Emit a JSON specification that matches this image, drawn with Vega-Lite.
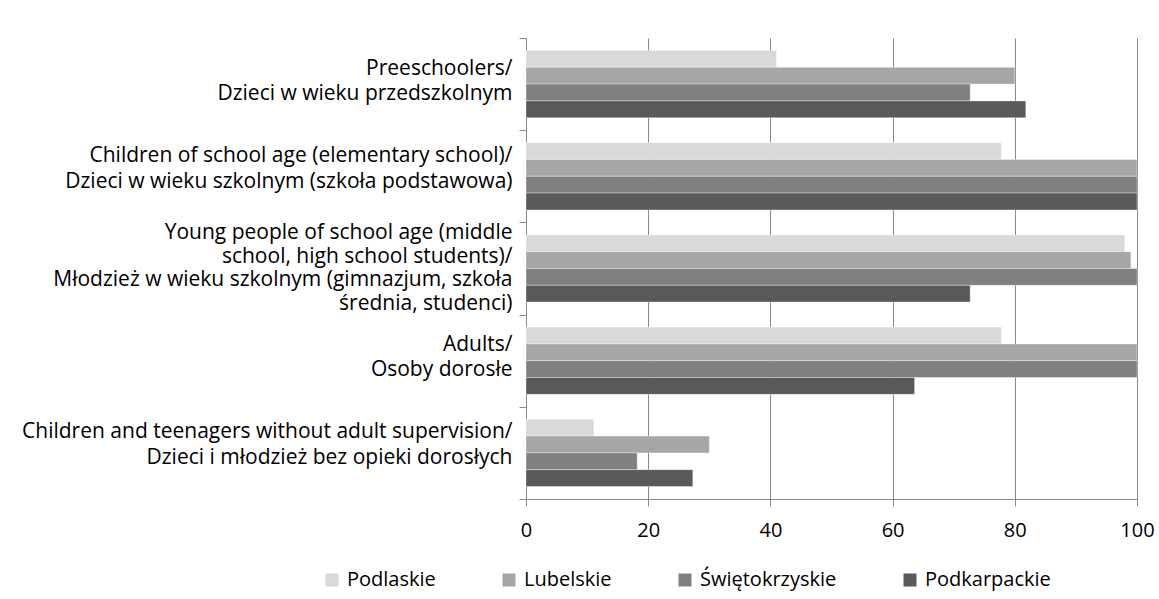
{
  "$schema": "https://vega.github.io/schema/vega-lite/v6.json",
  "width": 611,
  "height": 461,
  "autosize": {"type": "none"},
  "padding": {"left": 526, "top": 38, "right": 22, "bottom": 100},
  "background": "white",
  "config": {"view": {"stroke": null}, "font": "Open Sans"},
  "datasets": {
    "rows": [
      {"group": "Preeschoolers/|Dzieci w wieku przedszkolnym\u00a0", "region": "Podlaskie", "value": 41},
      {"group": "Preeschoolers/|Dzieci w wieku przedszkolnym\u00a0", "region": "Lubelskie", "value": 80},
      {"group": "Preeschoolers/|Dzieci w wieku przedszkolnym\u00a0", "region": "Świętokrzyskie", "value": 72.7},
      {"group": "Preeschoolers/|Dzieci w wieku przedszkolnym\u00a0", "region": "Podkarpackie", "value": 81.8},
      {"group": "Children of school age (elementary school)/|Dzieci w wieku szkolnym (szkoła podstawowa)\u00a0", "region": "Podlaskie", "value": 77.8},
      {"group": "Children of school age (elementary school)/|Dzieci w wieku szkolnym (szkoła podstawowa)\u00a0", "region": "Lubelskie", "value": 100},
      {"group": "Children of school age (elementary school)/|Dzieci w wieku szkolnym (szkoła podstawowa)\u00a0", "region": "Świętokrzyskie", "value": 100},
      {"group": "Children of school age (elementary school)/|Dzieci w wieku szkolnym (szkoła podstawowa)\u00a0", "region": "Podkarpackie", "value": 100},
      {"group": "Young people of school age (middle\u00a0\u00a0|school, high school students)/\u00a0|Młodzież w wieku szkolnym (gimnazjum, szkoła\u00a0\u00a0|średnia, studenci)\u00a0\u00a0", "region": "Podlaskie", "value": 98},
      {"group": "Young people of school age (middle\u00a0\u00a0|school, high school students)/\u00a0|Młodzież w wieku szkolnym (gimnazjum, szkoła\u00a0\u00a0|średnia, studenci)\u00a0\u00a0", "region": "Lubelskie", "value": 99},
      {"group": "Young people of school age (middle\u00a0\u00a0|school, high school students)/\u00a0|Młodzież w wieku szkolnym (gimnazjum, szkoła\u00a0\u00a0|średnia, studenci)\u00a0\u00a0", "region": "Świętokrzyskie", "value": 100},
      {"group": "Young people of school age (middle\u00a0\u00a0|school, high school students)/\u00a0|Młodzież w wieku szkolnym (gimnazjum, szkoła\u00a0\u00a0|średnia, studenci)\u00a0\u00a0", "region": "Podkarpackie", "value": 72.7},
      {"group": "Adults/|Osoby dorosłe", "region": "Podlaskie", "value": 77.8},
      {"group": "Adults/|Osoby dorosłe", "region": "Lubelskie", "value": 100},
      {"group": "Adults/|Osoby dorosłe", "region": "Świętokrzyskie", "value": 100},
      {"group": "Adults/|Osoby dorosłe", "region": "Podkarpackie", "value": 63.6},
      {"group": "Children and teenagers without adult supervision/\u00a0\u00a0|Dzieci i młodzież bez opieki dorosłych\u00a0", "region": "Podlaskie", "value": 11.1},
      {"group": "Children and teenagers without adult supervision/\u00a0\u00a0|Dzieci i młodzież bez opieki dorosłych\u00a0", "region": "Lubelskie", "value": 30},
      {"group": "Children and teenagers without adult supervision/\u00a0\u00a0|Dzieci i młodzież bez opieki dorosłych\u00a0", "region": "Świętokrzyskie", "value": 18.2},
      {"group": "Children and teenagers without adult supervision/\u00a0\u00a0|Dzieci i młodzież bez opieki dorosłych\u00a0", "region": "Podkarpackie", "value": 27.3}
    ]
  },
  "data": {"name": "rows"},
  "resolve": {"axis": {"y": "independent"}},
  "layer": [
    {
      "mark": {"type": "bar", "stroke": "#ffffff", "strokeWidth": 0.6, "strokeOpacity": 0.6},
      "encoding": {
        "y": {
          "field": "group",
          "type": "nominal",
          "sort": null,
          "scale": {"paddingInner": 0, "paddingOuter": 0},
          "axis": {
            "orient": "left",
            "title": null,
            "tickBand": "extent",
            "domainColor": "#898989",
            "tickColor": "#898989",
            "tickSize": 7,
            "labels": false,
            "grid": false
          }
        },
        "yOffset": {
          "field": "region",
          "type": "nominal",
          "sort": ["Podlaskie", "Lubelskie", "Świętokrzyskie", "Podkarpackie"],
          "scale": {"paddingInner": 0, "paddingOuter": 0.744}
        },
        "x": {
          "field": "value",
          "type": "quantitative",
          "scale": {"domain": [0, 100], "nice": false},
          "axis": {
            "title": null,
            "values": [0, 20, 40, 60, 80, 100],
            "grid": true,
            "gridColor": "#898989",
            "domainColor": "#898989",
            "tickColor": "#898989",
            "tickSize": 7,
            "labelFontSize": 20,
            "labelColor": "#000000",
            "labelPadding": 14,
            "labelFlush": false
          }
        },
        "color": {
          "field": "region",
          "type": "nominal",
          "sort": ["Podlaskie", "Lubelskie", "Świętokrzyskie", "Podkarpackie"],
          "scale": {
            "domain": ["Podlaskie", "Lubelskie", "Świętokrzyskie", "Podkarpackie"],
            "range": ["#d9d9d9", "#a6a6a6", "#808080", "#595959"]
          },
          "legend": {
            "title": null,
            "orient": "none",
            "direction": "horizontal",
            "legendX": -204,
            "legendY": 532,
            "symbolType": "square",
            "symbolSize": 169,
            "symbolStrokeWidth": 0,
            "symbolOpacity": 1,
            "labelFontSize": 20,
            "labelColor": "#000000",
            "labelOffset": 5,
            "columnPadding": 63,
            "padding": 0
          }
        }
      }
    },
    {
      "mark": {"type": "rule", "strokeOpacity": 0},
      "encoding": {
        "y": {
          "field": "group",
          "type": "nominal",
          "sort": null,
          "axis": {
            "orient": "left",
            "title": null,
            "domain": false,
            "tickOpacity": 0,
            "tickSize": 7,
            "tickOffset": -16,
            "labelPadding": 7,
            "labelFontSize": 21,
            "labelColor": "#000000",
            "labelLineHeight": 25,
            "labelLimit": 600,
            "labelExpr": "(indexof(datum.value, 'Preeschoolers') == 0 || indexof(datum.value, 'Adults') == 0) ? split(datum.label, '|') : ''",
            "grid": false
          }
        }
      }
    },
    {
      "mark": {"type": "rule", "strokeOpacity": 0},
      "encoding": {
        "y": {
          "field": "group",
          "type": "nominal",
          "sort": null,
          "axis": {
            "orient": "left",
            "title": null,
            "domain": false,
            "tickOpacity": 0,
            "tickSize": 7,
            "tickOffset": -21,
            "labelPadding": 7,
            "labelFontSize": 21,
            "labelColor": "#000000",
            "labelLineHeight": 26,
            "labelLimit": 600,
            "labelExpr": "indexof(datum.value, 'Children') == 0 ? split(datum.label, '|') : ''",
            "grid": false
          }
        }
      }
    },
    {
      "mark": {"type": "rule", "strokeOpacity": 0},
      "encoding": {
        "y": {
          "field": "group",
          "type": "nominal",
          "sort": null,
          "axis": {
            "orient": "left",
            "title": null,
            "domain": false,
            "tickOpacity": 0,
            "tickSize": 7,
            "tickOffset": -36,
            "labelPadding": 7,
            "labelFontSize": 21,
            "labelColor": "#000000",
            "labelLineHeight": 23.5,
            "labelLimit": 600,
            "labelExpr": "indexof(datum.value, 'Young') == 0 ? split(datum.label, '|') : ''",
            "grid": false
          }
        }
      }
    }
  ]
}
